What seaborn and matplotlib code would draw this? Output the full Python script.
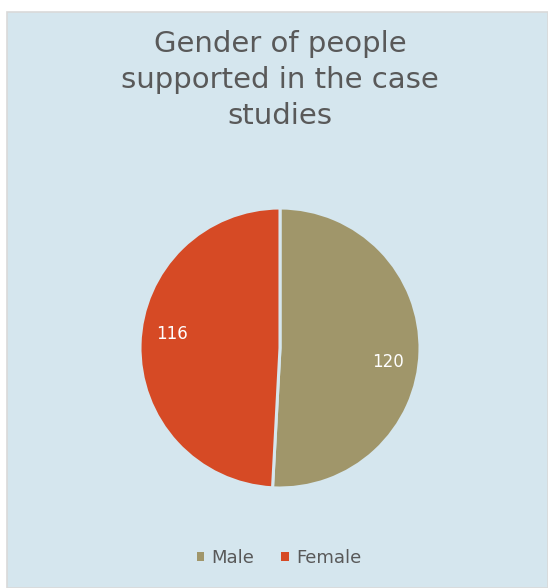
import numpy as np
import matplotlib
matplotlib.use("Agg")
import matplotlib.pyplot as plt
import seaborn as sns
from matplotlib.patches import Rectangle

categories = ["Male", "Female"]
values = [120, 116]
colors = ["#A0966A", "#D64A25"]
title = "Gender of people\nsupported in the case\nstudies"

sns.set_theme(style="white")
plt.rcParams["font.family"] = ["DejaVu Sans"]

W, H = 548, 588
BG = "#D5E6EE"
fig = plt.figure(figsize=(W / 100, H / 100), dpi=100)
fig.patch.set_facecolor("white")

# chart area background
bg = Rectangle((7 / W, 0), 1 - 7 / W, 1 - 12 / H, transform=fig.transFigure,
               facecolor=BG, edgecolor="#D9D9D9", linewidth=1.2, zorder=-10)
fig.patches.append(bg)

cx, cy, r = 280, 348, 140
ax = fig.add_axes([(cx - r) / W, (H - cy - r) / H, 2 * r / W, 2 * r / H])
ax.set_facecolor("none")
ax.set_zorder(5)

wedges, texts, autotexts = ax.pie(
    values, colors=colors, startangle=90, counterclock=False, radius=1,
    autopct=lambda p: f"{int(round(p * sum(values) / 100))}",
    pctdistance=0.77,
    wedgeprops=dict(edgecolor=BG, linewidth=2.2),
    textprops=dict(color="white", fontsize=12),
)
for w, t in zip(wedges, autotexts):
    mid = np.deg2rad((w.theta1 + w.theta2) / 2 - 6)
    t.set_position((0.78 * np.cos(mid), 0.78 * np.sin(mid)))
ax.set_xlim(-1, 1)
ax.set_ylim(-1, 1)
ax.set_aspect("equal")
ax.axis("off")

fig.text(280 / W, 1 - 80 / H, title, ha="center", va="center", fontsize=21,
         color="#595959", linespacing=1.35, zorder=6)

handles = [Rectangle((0, 0), 1, 1, facecolor=c, edgecolor="none") for c in colors]
leg = fig.legend(handles, categories, loc="center", bbox_to_anchor=(279 / W, 1 - 558 / H),
                 ncol=2, frameon=False, fontsize=13, handlelength=0.4, handleheight=0.4,
                 handletextpad=0.4, columnspacing=1.5, labelcolor="#595959")
leg.set_zorder(6)

fig.savefig("out.png", dpi=100, facecolor=fig.get_facecolor())
